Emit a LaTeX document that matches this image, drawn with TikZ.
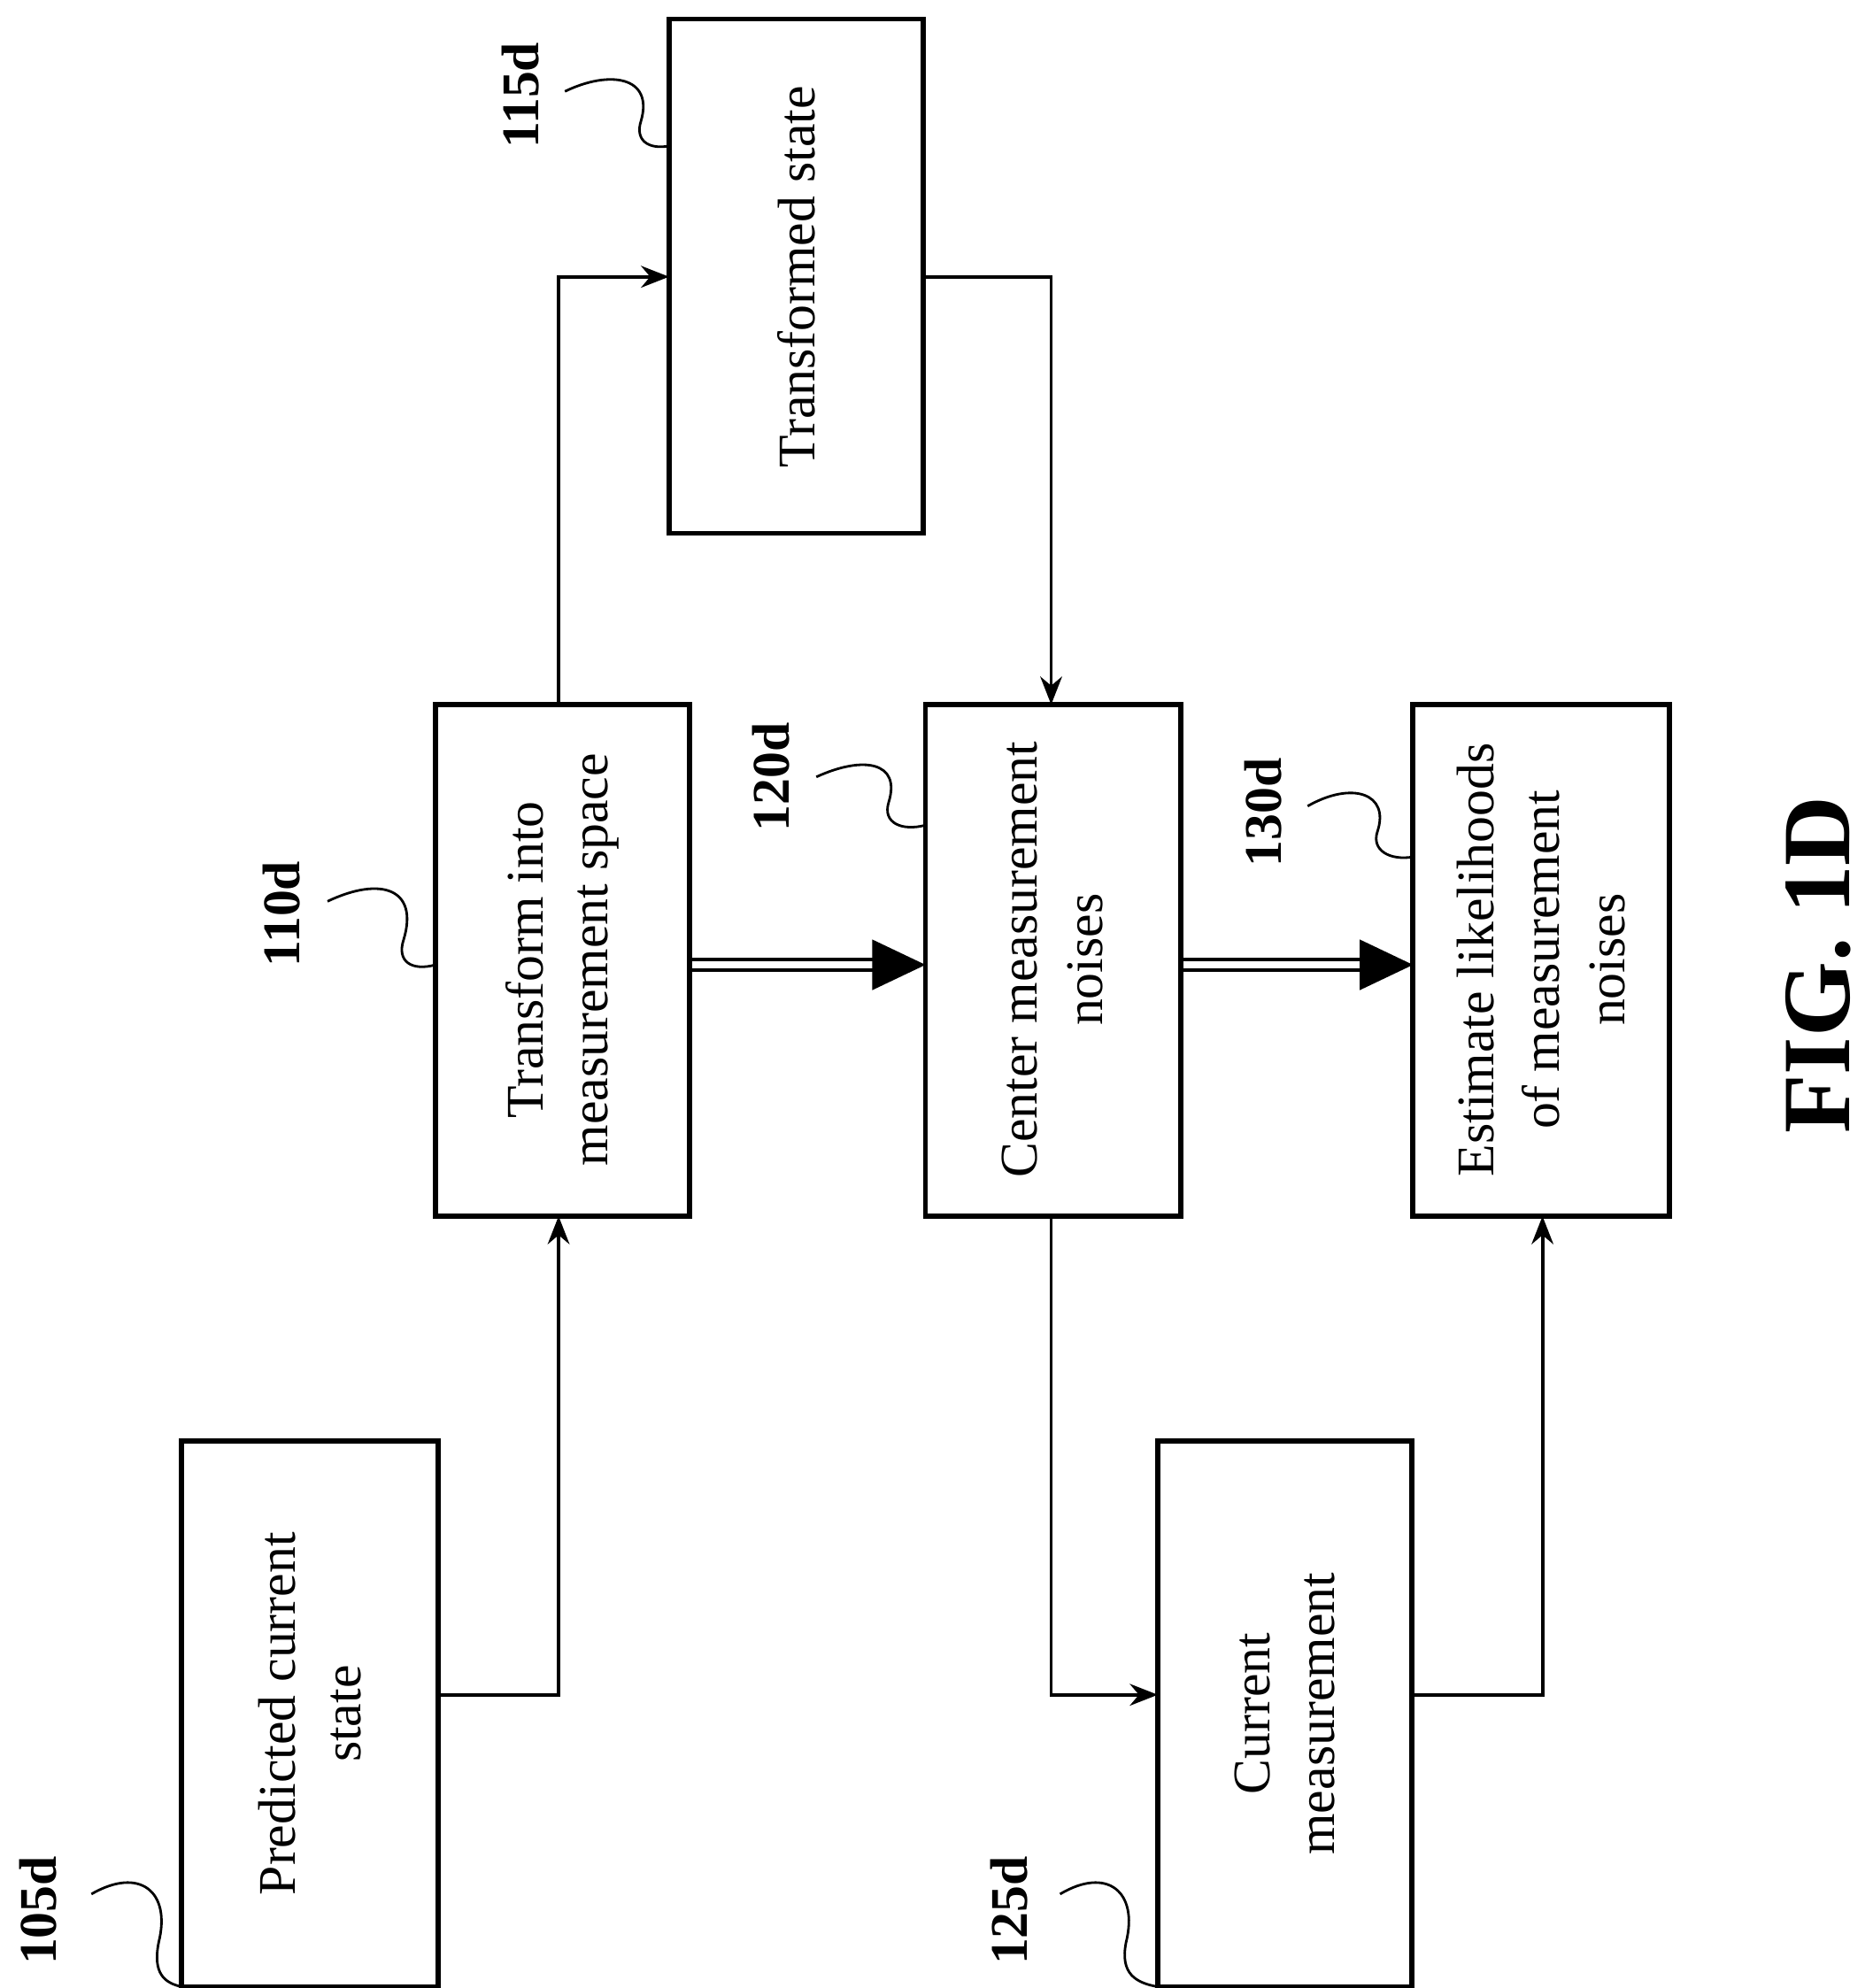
\documentclass[tikz,border=0pt]{standalone}
\usepackage{fontspec}
\setmainfont{Liberation Serif}
\usetikzlibrary{arrows.meta}
\begin{document}
\begin{tikzpicture}[x=0.1434mm,y=-0.1434mm,
  box/.style={draw,line width=1.6pt,inner sep=0pt},
  txt/.style={rotate=90,align=center,font=\fontsize{17}{21}\selectfont},
  lab/.style={rotate=90,font=\bfseries\fontsize{17}{21}\selectfont},
  conn/.style={line width=1.1pt,-{Stealth[length=9pt,width=7pt]}},
  sq/.style={line width=0.8pt}]
\useasboundingbox (0,0) rectangle (1475,1566);
\draw[box] (143,1135) rectangle (345,1565);
\node[txt] (p) at (244,1350) {Predicted current\\state};
\draw[box] (343,555) rectangle (543,958);
\node[txt] (t) at (443,756) {Transform into\\measurement space};
\draw[box] (527,15) rectangle (727,420);
\node[txt] (s) at (627,218) {Transformed state};
\draw[box] (729,555) rectangle (930,958);
\node[txt] (c) at (829,756) {Center measurement\\noises};
\draw[box] (1113,555) rectangle (1315,958);
\node[txt] (e) at (1214,756) {Estimate likelihoods\\of measurement\\noises};
\draw[box] (912,1135) rectangle (1112,1565);
\node[txt] (m) at (1012,1350) {Current\\measurement};
% connectors
\coordinate (a1) at (345,1335); \coordinate (a2) at (440,958);
\draw[conn] (a1) -| (a2);
\coordinate (b1) at (440,555); \coordinate (b2) at (527,218);
\draw[conn] (b1) |- (b2);
\coordinate (c1) at (727,218); \coordinate (c2) at (828,555);
\draw[conn] (c1) -| (c2);
\coordinate (d1) at (828,958); \coordinate (d2) at (912,1335);
\draw[conn] (d1) |- (d2);
\coordinate (e1) at (1112,1335); \coordinate (e2) at (1215,958);
\draw[conn] (e1) -| (e2);
% double arrows
\foreach \xa/\xb in {543/729,930/1113}{
  \draw[line width=1.2pt] (\xa,756) -- (\xb-40,756);
  \draw[line width=1.2pt] (\xa,764) -- (\xb-40,764);
  \fill (\xb-42,740) -- (\xb,760) -- (\xb-42,780) -- cycle;
}
% labels
\node[lab] (l105) at (30,1505) {105d};
\node[lab] (l110) at (222,720) {110d};
\node[lab] (l115) at (410,75) {115d};
\node[lab] (l120) at (607,612) {120d};
\node[lab] (l125) at (795,1505) {125d};
\node[lab] (l130) at (995,640) {130d};
\draw[sq] (72,1492) .. controls (110,1470) and (135,1490) .. (125,1530) .. controls (120,1555) and (130,1562) .. (143,1565);
\draw[sq] (258,710) .. controls (300,690) and (330,700) .. (318,740) .. controls (312,758) and (325,765) .. (343,760);
\draw[sq] (445,72) .. controls (480,55) and (515,60) .. (505,95) .. controls (500,110) and (510,118) .. (527,115);
\draw[sq] (643,612) .. controls (680,595) and (710,600) .. (700,632) .. controls (695,648) and (710,655) .. (729,650);
\draw[sq] (835,1492) .. controls (872,1470) and (897,1490) .. (887,1530) .. controls (882,1555) and (895,1562) .. (912,1565);
\draw[sq] (1030,635) .. controls (1065,615) and (1095,625) .. (1085,655) .. controls (1080,670) and (1095,678) .. (1113,675);
\node[rotate=90,font=\bfseries\fontsize{31}{36}\selectfont] (fig) at (1432,760) {FIG. 1D};
\end{tikzpicture}
\end{document}
